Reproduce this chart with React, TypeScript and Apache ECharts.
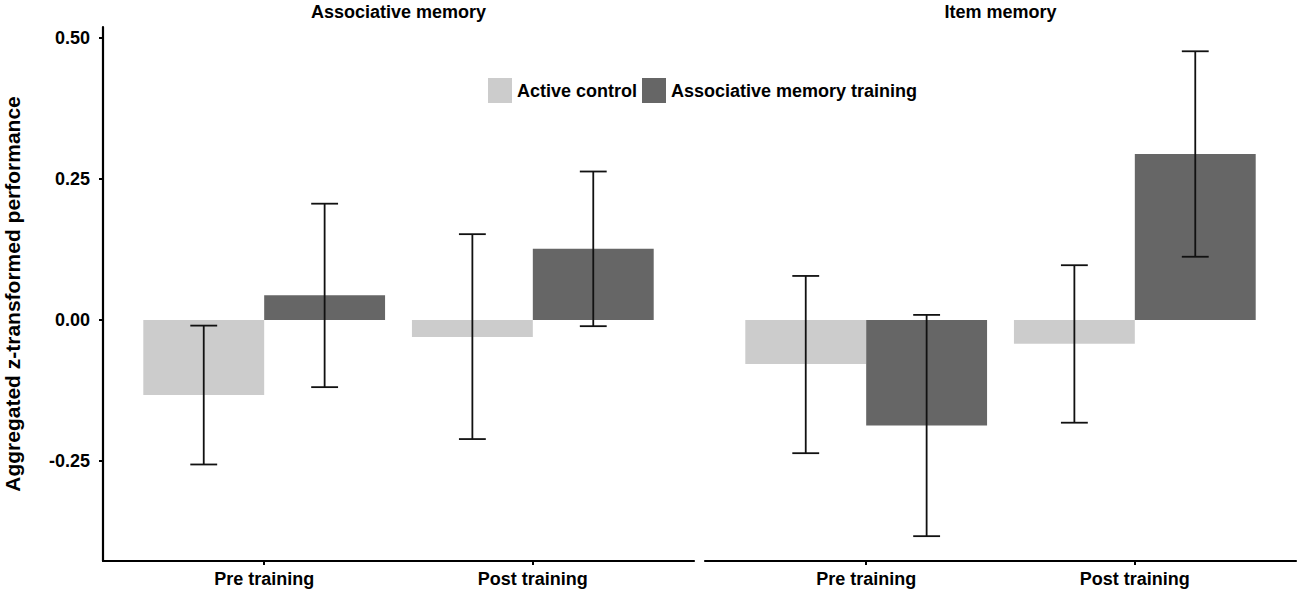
import React, { useEffect, useRef } from "react";
import * as echarts from "echarts";

const conditions = ["Pre training", "Post training"];
const panels = ["Associative memory", "Item memory"];
const groups = ["Active control", "Associative memory training"];
const yTicks = [-0.25, 0, 0.25, 0.5];

const assocControlMean = [-0.133, -0.030];
const assocControlLow = [-0.256, -0.211];
const assocControlHigh = [-0.010, 0.152];
const assocTrainingMean = [0.044, 0.126];
const assocTrainingLow = [-0.119, -0.011];
const assocTrainingHigh = [0.206, 0.263];

const itemControlMean = [-0.078, -0.042];
const itemControlLow = [-0.236, -0.182];
const itemControlHigh = [0.078, 0.097];
const itemTrainingMean = [-0.187, 0.294];
const itemTrainingLow = [-0.383, 0.112];
const itemTrainingHigh = [0.009, 0.476];

const FONT = '"Liberation Sans", Arial, Helvetica, sans-serif';
const LIGHT = "#cccccc";
const DARK = "#666666";
const Y_MIN = -0.427;
const Y_MAX = 0.519;
const HALF = 0.45;

function buildData(mean: number[], low: number[], high: number[]) {
  return conditions.map((_, i) => [i + 1, mean[i], low[i], high[i]]);
}

function makeSeries(name: string, color: string, side: number, axisIndex: number, data: number[][]) {
  return {
    type: "custom",
    name,
    xAxisIndex: axisIndex,
    yAxisIndex: axisIndex,
    itemStyle: { color },
    encode: { x: 0, y: [1, 2, 3] },
    data,
    renderItem: (params: any, api: any) => {
      const x = api.value(0);
      const v = api.value(1);
      const lo = api.value(2);
      const hi = api.value(3);
      const x0 = side < 0 ? x - HALF : x;
      const x1 = side < 0 ? x : x + HALF;
      const pA = api.coord([x0, Math.max(v, 0)]);
      const pB = api.coord([x1, Math.min(v, 0)]);
      const xc = (x0 + x1) / 2;
      const top = api.coord([xc, hi]);
      const bot = api.coord([xc, lo]);
      const capL = api.coord([xc - 0.05, hi])[0];
      const capR = api.coord([xc + 0.05, hi])[0];
      const lineStyle = { stroke: "#111111", lineWidth: 1.8 };
      return {
        type: "group",
        children: [
          {
            type: "rect",
            shape: { x: pA[0], y: pA[1], width: pB[0] - pA[0], height: pB[1] - pA[1] },
            style: { fill: color },
          },
          { type: "line", shape: { x1: top[0], y1: top[1], x2: bot[0], y2: bot[1] }, style: lineStyle },
          { type: "line", shape: { x1: capL, y1: top[1], x2: capR, y2: top[1] }, style: lineStyle },
          { type: "line", shape: { x1: capL, y1: bot[1], x2: capR, y2: bot[1] }, style: lineStyle },
        ],
      };
    },
  };
}

function xAxisFor(gridIndex: number) {
  return {
    type: "value",
    gridIndex,
    min: 0.4,
    max: 2.6,
    splitLine: { show: false },
    axisLine: { show: true, onZero: false, lineStyle: { color: "#000", width: 2.2 } },
    axisTick: { show: true, length: 4, customValues: [1, 2], lineStyle: { color: "#000", width: 2 } },
    axisLabel: {
      customValues: [1, 2],
      margin: 9,
      color: "#000",
      fontFamily: FONT,
      fontWeight: "bold",
      fontSize: 18,
      formatter: (val: number) => conditions[Math.round(val) - 1] ?? "",
    },
  };
}

function yAxisFor(gridIndex: number, visible: boolean) {
  return {
    type: "value",
    gridIndex,
    min: Y_MIN,
    max: Y_MAX,
    show: visible,
    splitLine: { show: false },
    name: visible ? "Aggregated z-transformed performance" : "",
    nameLocation: "middle",
    nameRotate: 90,
    nameGap: 80,
    nameTextStyle: { color: "#000", fontFamily: FONT, fontWeight: "bold", fontSize: 21 },
    axisLine: { show: visible, lineStyle: { color: "#000", width: 2.2 } },
    axisTick: { show: visible, length: 4, customValues: yTicks, lineStyle: { color: "#000", width: 2 } },
    axisLabel: {
      show: visible,
      customValues: yTicks,
      margin: 13,
      color: "#000",
      fontFamily: FONT,
      fontWeight: "bold",
      fontSize: 18,
      formatter: (val: number) => val.toFixed(2),
    },
  };
}

export default function App() {
  const ref = useRef<HTMLDivElement>(null);
  useEffect(() => {
    document.body.style.margin = "0";
    if (!ref.current) return;
    const chart = echarts.init(ref.current, undefined, { renderer: "svg" });
    const option: any = {
      animation: false,
      backgroundColor: "#ffffff",
      textStyle: { fontFamily: FONT },
      grid: [
        { left: 103, top: 27, width: 591, height: 534 },
        { left: 705, top: 27, width: 591, height: 534 },
      ],
      xAxis: [xAxisFor(0), xAxisFor(1)],
      yAxis: [yAxisFor(0, true), yAxisFor(1, false)],
      legend: {
        left: 483,
        top: 73,
        itemWidth: 24,
        itemHeight: 25,
        itemGap: 5,
        icon: "rect",
        data: groups,
        textStyle: { color: "#000", fontFamily: FONT, fontWeight: "bold", fontSize: 18 },
      },
      graphic: [
        {
          type: "text",
          x: 398.5,
          y: 12,
          style: { text: panels[0], font: `bold 18px ${FONT}`, fill: "#000", textAlign: "center", textVerticalAlign: "middle" },
        },
        {
          type: "text",
          x: 1000.5,
          y: 12,
          style: { text: panels[1], font: `bold 18px ${FONT}`, fill: "#000", textAlign: "center", textVerticalAlign: "middle" },
        },
      ],
      series: [
        makeSeries(groups[0], LIGHT, -1, 0, buildData(assocControlMean, assocControlLow, assocControlHigh)),
        makeSeries(groups[1], DARK, 1, 0, buildData(assocTrainingMean, assocTrainingLow, assocTrainingHigh)),
        makeSeries(groups[0], LIGHT, -1, 1, buildData(itemControlMean, itemControlLow, itemControlHigh)),
        makeSeries(groups[1], DARK, 1, 1, buildData(itemTrainingMean, itemTrainingLow, itemTrainingHigh)),
      ],
    };
    chart.setOption(option);
    return () => chart.dispose();
  }, []);
  return <div ref={ref} style={{ width: 1300, height: 595 }} />;
}
